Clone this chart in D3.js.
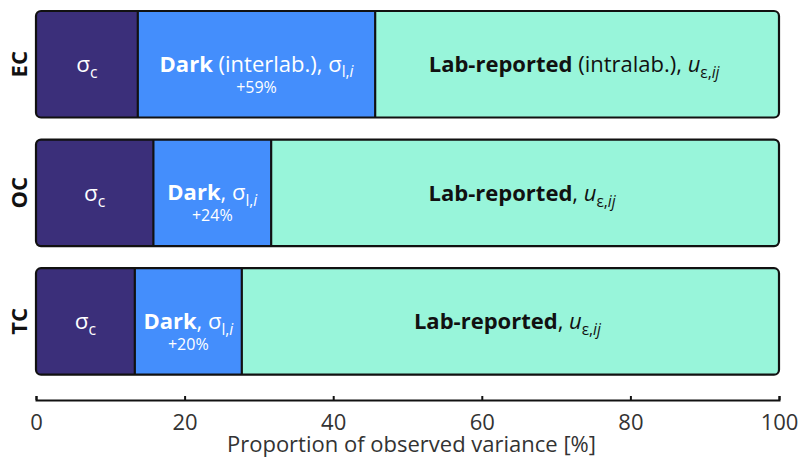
<!DOCTYPE html>
<html>
<head>
<meta charset="utf-8">
<script src="https://cdn.jsdelivr.net/npm/d3@7"></script>
<style>
  html, body { margin: 0; padding: 0; background: #fff; }
  svg { display: block; font-family: "Open Sans", "Noto Sans", sans-serif; }
</style>
</head>
<body>
<svg id="chart" width="799" height="457"></svg>
<script>
// Variance components per carbon fraction (percent of observed variance)
const categories = ["EC", "OC", "TC"];
const sigmaC = [13.7, 15.8, 13.3];
const dark = [31.95, 15.85, 14.4];
const labReported = [54.35, 68.35, 72.3];
const darkIncrease = ["+59%", "+24%", "+20%"];
const darkQualifier = ["(interlab.)", "", ""];
const labQualifier = ["(intralab.)", "", ""];
const xTicks = [0, 20, 40, 60, 80, 100];
const xTitle = "Proportion of observed variance [%]";

const colors = { sigma: "#3b2f7a", dark: "#448efc", lab: "#98f5da" };

const svg = d3.select("#chart");
const x = d3.scaleLinear().domain([0, 100]).range([36, 779]);
const y = d3.scaleBand().domain(categories).range([11, 374.7])
  .paddingInner(0.172).paddingOuter(0);

const radius = 5;

// Rich text helper: parts = [{t, bold, italic, sub}]
function richText(g, cx, cy, parts, size, color) {
  const text = g.append("text")
    .attr("x", cx).attr("y", cy)
    .attr("text-anchor", "middle")
    .attr("fill", color)
    .style("font-size", size + "px");
  let shift = 0;
  parts.forEach(p => {
    const target = p.sub ? size * 0.26 : 0;
    text.append("tspan").text(p.t)
      .attr("dy", target - shift)
      .style("font-size", (p.sub ? size * 0.7 : size) + "px")
      .style("font-weight", p.bold ? 700 : 400)
      .style("font-style", p.italic ? "italic" : "normal");
    shift = target;
  });
  return text;
}

const defs = svg.append("defs");

categories.forEach((cat, i) => {
  const segs = [
    { key: "sigma", start: 0, end: sigmaC[i] },
    { key: "dark", start: sigmaC[i], end: sigmaC[i] + dark[i] },
    { key: "lab", start: sigmaC[i] + dark[i], end: sigmaC[i] + dark[i] + labReported[i] }
  ];
  const y0 = y(cat), h = y.bandwidth();
  const x0 = x(0), x1 = x(segs[2].end);

  defs.append("clipPath").attr("id", "clip-" + cat)
    .append("rect").attr("x", x0).attr("y", y0)
    .attr("width", x1 - x0).attr("height", h)
    .attr("rx", radius).attr("ry", radius);

  const g = svg.append("g");
  const fills = g.append("g").attr("clip-path", "url(#clip-" + cat + ")");
  fills.selectAll("rect").data(segs).join("rect")
    .attr("x", d => x(d.start)).attr("y", y0)
    .attr("width", d => x(d.end) - x(d.start)).attr("height", h)
    .attr("fill", d => colors[d.key]);

  // dividers between components
  g.selectAll("line.div").data(segs.slice(1)).join("line")
    .attr("class", "div")
    .attr("x1", d => x(d.start)).attr("x2", d => x(d.start))
    .attr("y1", y0).attr("y2", y0 + h)
    .attr("stroke", "#111").attr("stroke-width", 2.2);

  g.append("rect")
    .attr("x", x0).attr("y", y0)
    .attr("width", x1 - x0).attr("height", h)
    .attr("rx", radius).attr("ry", radius)
    .attr("fill", "none").attr("stroke", "#111").attr("stroke-width", 2.2);

  const cy = y0 + h / 2;
  const mid = d => (x(d.start) + x(d.end)) / 2;

  richText(g, mid(segs[0]), cy + 8,
    [{ t: "σ" }, { t: "c", sub: true }], 22.5, "#fff");

  const darkParts = [{ t: "Dark", bold: true }];
  darkParts.push({ t: darkQualifier[i] ? " " + darkQualifier[i] + ", " : ", " });
  darkParts.push({ t: "σ" }, { t: "l,", sub: true }, { t: "i", sub: true, italic: true });
  richText(g, mid(segs[1]), cy + 7.5, darkParts, 22, "#fff");
  g.append("text")
    .attr("x", mid(segs[1])).attr("y", cy + 28.5)
    .attr("text-anchor", "middle").attr("fill", "#fff")
    .style("font-size", "16px")
    .text(darkIncrease[i]);

  const labParts = [{ t: "Lab-reported", bold: true }];
  labParts.push({ t: labQualifier[i] ? " " + labQualifier[i] + ", " : ", " });
  labParts.push({ t: "u", italic: true }, { t: "ε,", sub: true }, { t: "ij", sub: true, italic: true });
  richText(g, mid(segs[2]) - 3, cy + 8, labParts, 22, "#111");

  svg.append("text")
    .attr("transform", `translate(27,${cy}) rotate(-90)`)
    .attr("text-anchor", "middle")
    .attr("fill", "#111")
    .style("font-size", "22px").style("font-weight", 700)
    .text(cat);
});

// x axis with ticks pointing up
const axis = d3.axisBottom(x).tickValues(xTicks)
  .tickSizeInner(-4).tickSizeOuter(-4).tickPadding(14);
const ag = svg.append("g").attr("transform", "translate(0,400)").call(axis);
ag.select(".domain").attr("stroke", "#111").attr("stroke-width", 2);
ag.selectAll(".tick line").attr("stroke", "#111").attr("stroke-width", 2);
ag.selectAll(".tick text").attr("fill", "#333")
  .style("font-size", "22px").style("font-family", "'Open Sans', sans-serif");

svg.append("text")
  .attr("x", (x(0) + x(100)) / 2 + 4).attr("y", 452)
  .attr("text-anchor", "middle").attr("fill", "#333")
  .style("font-size", "22px")
  .text(xTitle);
</script>
</body>
</html>
